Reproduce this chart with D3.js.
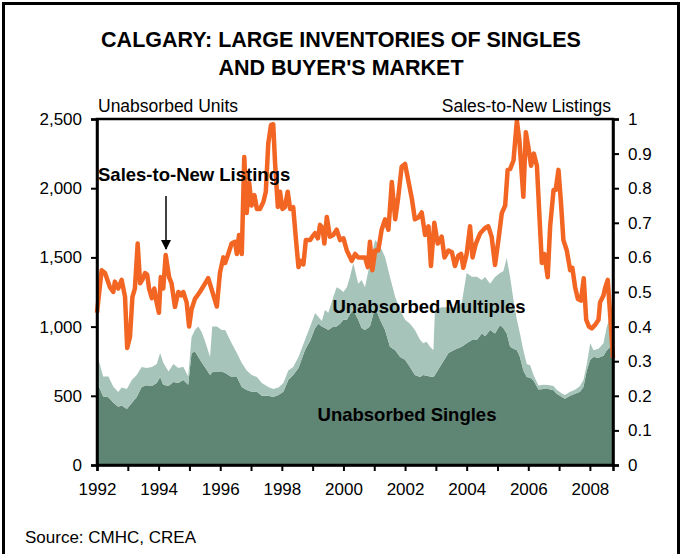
<!DOCTYPE html>
<html>
<head>
<meta charset="utf-8">
<script src="https://cdn.jsdelivr.net/npm/d3@7"></script>
<style>
  html, body { margin: 0; padding: 0; background: #fff; }
  svg { display: block; font-family: "Liberation Sans", Arial, sans-serif; }
</style>
</head>
<body>
<svg id="chart" width="682" height="554"></svg>
<script>
// ---------- DATA ----------
const titleLines = ["CALGARY: LARGE INVENTORIES OF SINGLES", "AND BUYER'S MARKET"];
const leftTicks = [0, 500, 1000, 1500, 2000, 2500];
const rightTicks = [0, 0.1, 0.2, 0.3, 0.4, 0.5, 0.6, 0.7, 0.8, 0.9, 1];
const yearTicks = d3.range(1992, 2009);
const yearLabels = [1992, 1994, 1996, 1998, 2000, 2002, 2004, 2006, 2008];

// Unabsorbed units (stacked): dates in decimal years
const areaYears = [1992.00,1992.20,1992.37,1992.53,1992.69,1992.80,1992.97,1993.13,1993.29,1993.45,1993.61,1993.78,1993.94,
  1994.05,1994.15,1994.32,1994.48,1994.64,1994.80,1994.96,1995.07,1995.18,1995.29,1995.40,1995.50,1995.67,1995.74,1995.89,
  1996.05,1996.16,1996.37,1996.54,1996.70,1996.86,1997.02,1997.19,1997.35,1997.56,1997.72,1997.89,1998.05,1998.21,1998.37,
  1998.54,1998.75,1998.92,1999.08,1999.19,1999.30,1999.40,1999.51,1999.67,1999.78,1999.89,2000.00,2000.11,2000.21,2000.32,
  2000.48,2000.59,2000.70,2000.86,2001.03,2001.19,2001.35,2001.51,2001.68,2001.84,2002.00,2002.16,2002.32,2002.49,2002.59,
  2002.70,2002.81,2002.92,2002.97,2003.19,2003.41,2003.62,2003.84,2004.00,2004.17,2004.33,2004.49,2004.60,2004.76,2004.92,
  2005.08,2005.19,2005.30,2005.41,2005.52,2005.63,2005.73,2005.84,2005.95,2006.06,2006.17,2006.33,2006.49,2006.65,2006.82,
  2006.92,2007.09,2007.19,2007.36,2007.52,2007.68,2007.79,2007.90,2008.01,2008.12,2008.28,2008.44,2008.55,2008.66,2008.75];
const singles = [600,495,490,450,420,430,405,448,491,564,576,570,592,
  636,580,570,600,592,614,580,809,820,780,740,708,650,670,675,
  675,665,636,636,564,542,530,530,500,500,491,505,530,614,650,
  700,830,900,990,1020,1000,990,975,1000,1000,1020,1050,1050,1090,1120,
  1050,990,975,1000,1140,1050,975,855,830,780,760,708,650,636,650,
  645,640,636,650,730,810,835,855,880,903,903,950,930,975,950,
  1010,990,950,855,840,830,780,683,636,630,610,545,550,550,540,
  515,491,478,500,515,530,564,683,760,780,775,790,830,855,840];
const multiples = [200,145,150,115,107,130,145,166,159,144,124,138,138,
  173,160,105,130,108,96,60,116,155,220,220,192,130,330,325,
  300,310,244,173,173,141,120,106,92,64,59,55,62,69,58,
  80,73,100,108,50,40,130,125,214,285,250,200,235,268,340,
  260,346,310,460,485,530,528,503,384,340,290,312,325,267,230,
  245,215,194,470,410,330,305,315,507,457,457,386,428,335,408,
  377,410,545,503,350,220,170,147,94,90,40,30,30,28,30,
  28,25,28,30,28,40,50,47,120,50,65,90,170,215,60];

// Sales-to-new listings ratio
const ratioYears = [1992.00,1992.15,1992.26,1992.42,1992.53,1992.58,1992.69,1992.80,1992.91,1992.98,1993.07,1993.15,1993.23,
  1993.32,1993.40,1993.47,1993.56,1993.63,1993.69,1993.78,1993.86,1993.94,1994.01,1994.07,1994.15,1994.23,1994.34,1994.42,
  1994.53,1994.64,1994.73,1994.80,1994.91,1994.99,1995.07,1995.18,1995.34,1995.51,1995.61,1995.78,1995.89,1995.99,1996.10,
  1996.16,1996.26,1996.37,1996.48,1996.54,1996.61,1996.70,1996.78,1996.86,1996.94,1997.02,1997.11,1997.19,1997.29,1997.40,
  1997.48,1997.56,1997.65,1997.72,1997.78,1997.87,1997.94,1998.02,1998.10,1998.19,1998.27,1998.37,1998.45,1998.54,1998.62,
  1998.70,1998.78,1998.92,1998.99,1999.08,1999.17,1999.24,1999.32,1999.38,1999.46,1999.56,1999.67,1999.78,1999.89,2000.00,
  2000.11,2000.27,2000.38,2000.48,2000.59,2000.70,2000.79,2000.86,2000.94,2001.03,2001.13,2001.24,2001.35,2001.46,2001.57,
  2001.68,2001.78,2001.89,2002.00,2002.11,2002.22,2002.32,2002.43,2002.54,2002.65,2002.76,2002.84,2002.95,2003.06,2003.19,
  2003.28,2003.41,2003.52,2003.62,2003.73,2003.82,2003.89,2004.00,2004.11,2004.19,2004.30,2004.44,2004.60,2004.70,2004.81,
  2004.92,2005.03,2005.14,2005.25,2005.33,2005.41,2005.52,2005.63,2005.71,2005.84,2005.92,2006.00,2006.09,2006.18,2006.28,
  2006.35,2006.44,2006.52,2006.63,2006.71,2006.82,2006.89,2006.98,2007.06,2007.14,2007.25,2007.36,2007.43,2007.52,2007.61,
  2007.71,2007.80,2007.88,2007.97,2008.06,2008.17,2008.28,2008.33,2008.44,2008.49,2008.58,2008.66,2008.75];
const ratioValues = [0.44,0.563,0.555,0.514,0.50,0.53,0.51,0.535,0.486,0.338,0.37,0.486,0.51,
  0.64,0.525,0.535,0.555,0.55,0.51,0.482,0.51,0.468,0.44,0.543,0.51,0.607,0.543,0.525,
  0.457,0.50,0.49,0.50,0.47,0.40,0.45,0.48,0.50,0.525,0.54,0.49,0.458,0.555,0.60,
  0.584,0.61,0.64,0.645,0.61,0.665,0.61,0.89,0.728,0.815,0.75,0.78,0.74,0.74,0.76,
  0.79,0.93,0.983,0.985,0.873,0.746,0.79,0.74,0.745,0.79,0.74,0.745,0.66,0.572,0.59,
  0.58,0.65,0.65,0.66,0.67,0.655,0.694,0.685,0.64,0.717,0.66,0.665,0.68,0.65,0.655,
  0.62,0.59,0.61,0.60,0.60,0.60,0.572,0.645,0.563,0.62,0.62,0.68,0.71,0.68,0.818,
  0.71,0.775,0.862,0.87,0.82,0.77,0.71,0.715,0.73,0.665,0.69,0.575,0.70,0.64,0.66,
  0.60,0.62,0.615,0.575,0.605,0.61,0.57,0.61,0.69,0.60,0.64,0.67,0.685,0.69,0.66,
  0.578,0.65,0.728,0.75,0.853,0.855,0.88,0.995,0.94,0.775,0.962,0.92,0.865,0.90,0.865,
  0.74,0.584,0.61,0.543,0.69,0.795,0.795,0.853,0.76,0.65,0.62,0.563,0.57,0.514,0.48,
  0.475,0.54,0.42,0.40,0.395,0.405,0.42,0.47,0.49,0.51,0.535,0.43,0.31];

// ---------- LAYOUT ----------
const svg = d3.select("#chart");
const X0 = 97, X1 = 613, Y0 = 465, Y1 = 119;
const x = d3.scaleLinear().domain([1992, 2008.75]).range([X0, X1]);
const yL = d3.scaleLinear().domain([0, 2500]).range([Y0, Y1]);
const yR = d3.scaleLinear().domain([0, 1]).range([Y0, Y1]);

const colSingles = "#5f8574";
const colMultiples = "#a6c4b9";
const colRatio = "#f26522";

// outer frame
svg.append("rect").attr("x", 3.5).attr("y", 3.5).attr("width", 675).attr("height", 560)
  .attr("fill", "none").attr("stroke", "#000").attr("stroke-width", 3);

// title
svg.selectAll("text.title").data(titleLines).enter().append("text")
  .attr("class", "title")
  .attr("x", 341).attr("y", (d, i) => 47 + i * 28)
  .attr("text-anchor", "middle").attr("font-size", 21.5).attr("font-weight", "bold")
  .text(d => d);

// stacked areas
const rows = areaYears.map((t, i) => ({ t, singles: singles[i], multiples: multiples[i] }));
const stack = d3.stack().keys(["singles", "multiples"]);
const layers = stack(rows);
const area = d3.area()
  .x(d => x(d.data.t))
  .y0(d => yL(d[0]))
  .y1(d => yL(d[1]));
svg.append("g").selectAll("path").data(layers).enter().append("path")
  .attr("d", area)
  .attr("fill", (d, i) => i === 0 ? colSingles : colMultiples);

// ratio line
const ratioData = ratioYears.map((t, i) => ({ t, v: ratioValues[i] }));
svg.append("path").datum(ratioData)
  .attr("d", d3.line().x(d => x(d.t)).y(d => yR(d.v)))
  .attr("fill", "none").attr("stroke", colRatio).attr("stroke-width", 4.5)
  .attr("stroke-linejoin", "round");

// plot frame
svg.append("rect").attr("x", X0).attr("y", Y1).attr("width", X1 - X0).attr("height", Y0 - Y1)
  .attr("fill", "none").attr("stroke", "#000").attr("stroke-width", 2.5);

// axes
const fontSize = 17;
const gL = svg.append("g").attr("transform", `translate(${X0},0)`)
  .call(d3.axisLeft(yL).tickValues(leftTicks).tickFormat(d3.format(",")).tickSize(6).tickPadding(9));
const gR = svg.append("g").attr("transform", `translate(${X1},0)`)
  .call(d3.axisRight(yR).tickValues(rightTicks).tickFormat(d3.format(".1~f")).tickSize(6).tickPadding(9));
const gX = svg.append("g").attr("transform", `translate(0,${Y0})`)
  .call(d3.axisBottom(x).tickValues(yearTicks)
    .tickFormat(d => yearLabels.includes(d) ? String(d) : "").tickSize(6).tickPadding(12));
[gL, gR, gX].forEach(g => {
  g.select(".domain").attr("stroke", "#000").attr("stroke-width", 2.5);
  g.selectAll(".tick line").attr("stroke", "#000").attr("stroke-width", 2);
  g.selectAll("text").attr("font-size", fontSize).attr("fill", "#000")
    .attr("font-family", "'Liberation Sans', Arial, sans-serif");
});

// axis titles
svg.append("text").attr("x", 98).attr("y", 112).attr("font-size", 17.5).text("Unabsorbed Units");
svg.append("text").attr("x", 611).attr("y", 112).attr("font-size", 17.5)
  .attr("text-anchor", "end").text("Sales-to-New Listings");

// annotations
svg.append("text").attr("x", 98).attr("y", 181).attr("font-size", 18.5).attr("font-weight", "bold")
  .text("Sales-to-New Listings");
svg.append("defs").append("marker").attr("id", "arrow")
  .attr("viewBox", "0 0 10 10").attr("refX", 9).attr("refY", 5)
  .attr("markerWidth", 10).attr("markerHeight", 10).attr("markerUnits", "userSpaceOnUse")
  .attr("orient", "auto")
  .append("path").attr("d", "M0,0 L10,5 L0,10 Z").attr("fill", "#000");
svg.append("line").attr("x1", 166).attr("y1", 196).attr("x2", 166).attr("y2", 249)
  .attr("stroke", "#000").attr("stroke-width", 1.5).attr("marker-end", "url(#arrow)");
svg.append("text").attr("x", 429).attr("y", 313).attr("font-size", 18.5).attr("font-weight", "bold")
  .attr("text-anchor", "middle").text("Unabsorbed Multiples");
svg.append("text").attr("x", 407).attr("y", 421).attr("font-size", 18.5).attr("font-weight", "bold")
  .attr("text-anchor", "middle").text("Unabsorbed Singles");

// source
svg.append("text").attr("x", 25).attr("y", 543).attr("font-size", 17).text("Source: CMHC, CREA");
</script>
</body>
</html>
